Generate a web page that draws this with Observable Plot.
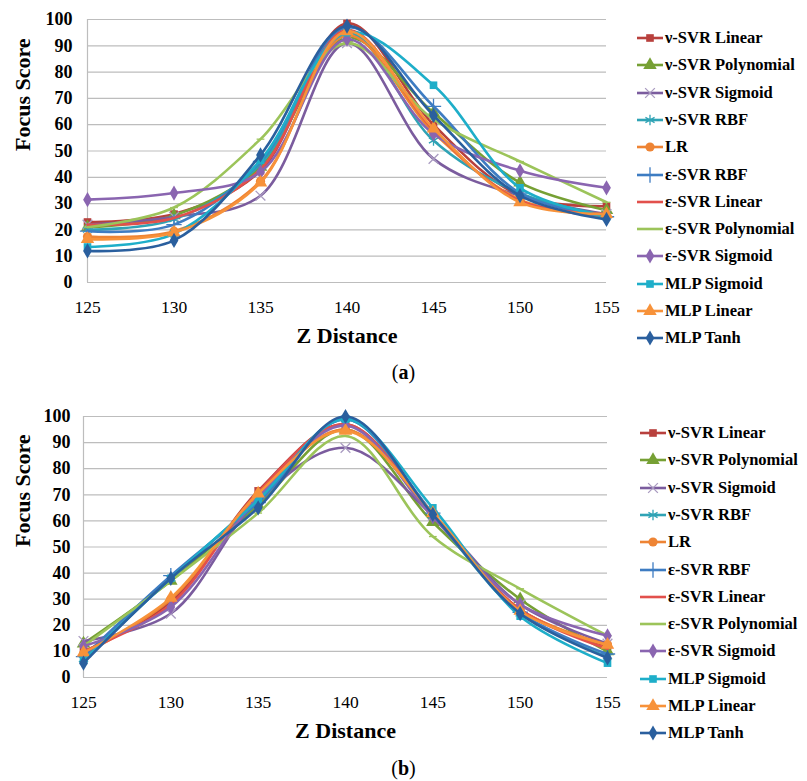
<!DOCTYPE html>
<html><head><meta charset="utf-8">
<script src="https://cdn.jsdelivr.net/npm/d3@7"></script>
<script src="https://cdn.jsdelivr.net/npm/@observablehq/plot@0.6"></script>
<style>
body{margin:0;background:#fff;}
#root{position:relative;width:807px;height:781px;font-family:"Liberation Serif","Times New Roman","DejaVu Serif",serif;color:#000;overflow:hidden;}
.panel{position:absolute;left:0;}
.row{position:absolute;display:flex;align-items:center;white-space:nowrap;font-weight:bold;font-size:16.5px;height:18px;}
.row svg{margin-right:2px;}
.cap{position:absolute;left:0;width:807px;text-align:center;font-size:20px;line-height:24px;}
svg text{font-family:"Liberation Serif","Times New Roman","DejaVu Serif",serif !important;}
</style></head><body><div id="root"></div>
<script>
const zDistance = [125, 130, 135, 140, 145, 150, 155];
const yTicks = [0, 10, 20, 30, 40, 50, 60, 70, 80, 90, 100];
const seriesNames = ["ν-SVR Linear", "ν-SVR Polynomial", "ν-SVR Sigmoid", "ν-SVR RBF", "LR", "ε-SVR RBF",
  "ε-SVR Linear", "ε-SVR Polynomial", "ε-SVR Sigmoid", "MLP Sigmoid", "MLP Linear", "MLP Tanh"];
const seriesColors = ["#b8403d", "#76a034", "#7b5c9e", "#2fa3b5", "#ee8434", "#3e7cc2",
  "#e2504c", "#9cc45a", "#8a65b0", "#1eaec9", "#f7923a", "#2a5f9e"];
const seriesSymbols = ["square", "triangle", "times", "asterisk", "circle", "plus",
  null, "dash", "diamond", "square", "triangle", "diamond"];

// Panel (a) focus scores, one row per series, columns follow zDistance
const scoresA = [
  [23, 26, 42.5, 98.5, 60, 33, 29],
  [21, 25.5, 44, 93, 64.5, 38, 27.5],
  [22, 25, 33, 91, 47, 33, 26],
  [20, 24, 45, 95, 54, 34, 25.5],
  [17.5, 19.5, 38.5, 94, 57, 31.5, 25],
  [19.5, 22, 46, 97, 67, 34, 25],
  [22, 24.5, 43, 96, 58, 31, 26],
  [21, 28.5, 54.5, 91, 62, 46, 30.5],
  [31.5, 34, 42, 92.5, 56.5, 42.5, 36],
  [13.5, 18.5, 46.5, 95, 75, 36, 25],
  [16.5, 19, 38, 95.5, 58.5, 30.5, 26],
  [12, 16, 48.5, 97.5, 63.5, 33, 24]
];
// Panel (b) focus scores
const scoresB = [
  [10, 29, 71.5, 97, 62, 26, 12],
  [13, 37, 66, 95, 59.5, 30, 10],
  [14, 24.5, 68, 88, 62, 28, 13],
  [7, 38, 68, 99, 62, 24.5, 8],
  [9, 30, 70, 95, 62.5, 26, 12.5],
  [8, 39, 67, 99, 63, 25, 9],
  [10, 28, 71, 97, 62, 26, 11],
  [12, 37, 63, 92.5, 54, 34, 16],
  [12, 27, 69, 96.5, 61.5, 28, 16],
  [6.5, 38, 68, 99, 65, 23.5, 5.5],
  [9.5, 30.5, 70.5, 94.5, 63, 25.5, 12.5],
  [5.5, 38, 65, 100, 62.5, 24.5, 7.5]
];

const dashSymbol = {draw(ctx, size) { const w = Math.sqrt(size) * 0.55; ctx.moveTo(-w, 0); ctx.lineTo(w, 0); }};
const strokeSymbols = new Set(["times", "asterisk", "plus", "dash"]);
const symbolRadius = {square: 4.3, triangle: 5, times: 4.5, asterisk: 5, circle: 4.6, plus: 5, dash: 4, diamond: 4.6};
const serif = '"Liberation Serif", "Times New Roman", "DejaVu Serif", serif';

function tidy(scores) {
  const rows = [];
  scores.forEach((vals, i) => vals.forEach((v, j) => rows.push({series: seriesNames[i], idx: i, z: zDistance[j], score: v})));
  return rows;
}

function panel(scores, opts) {
  const data = tidy(scores);
  const marks = [
    Plot.gridY(yTicks, {stroke: "#bdbdbd", strokeOpacity: 1, strokeWidth: 1.2}),
    Plot.ruleX([125], {stroke: "#bdbdbd", strokeWidth: 1.2}),
    Plot.axisY(yTicks, {tickSize: 0, tickPadding: opts.yPad, fontWeight: "bold", fontSize: 18, label: null}),
    Plot.axisX(zDistance, {tickSize: 0, tickPadding: 18, fontSize: 17.5, label: null}),
    Plot.text(["Focus Score"], {text: d => d, frameAnchor: "left", rotate: -90, dx: -opts.titleDx, fontWeight: "bold", fontSize: 22}),
    Plot.text(["Z Distance"], {text: d => d, frameAnchor: "bottom", dy: 60, fontWeight: "bold", fontSize: 22})
  ];
  seriesNames.forEach((name, i) => {
    const sub = data.filter(d => d.idx === i);
    marks.push(Plot.line(sub, {x: "z", y: "score", stroke: seriesColors[i], strokeWidth: 2.6, curve: "catmull-rom"}));
    const s = seriesSymbols[i];
    if (s) {
      const sym = s === "dash" ? dashSymbol : s;
      const isStroke = strokeSymbols.has(s);
      marks.push(Plot.dot(sub, {x: "z", y: "score", symbol: sym, r: symbolRadius[s],
        fill: isStroke ? "none" : seriesColors[i], stroke: isStroke ? (s === "times" ? "#a99bc0" : seriesColors[i]) : "none",
        strokeWidth: isStroke ? 1.3 : 0}));
    }
  });
  return Plot.plot({
    width: 620, height: 360,
    marginLeft: opts.ml, marginRight: opts.mr, marginTop: 19, marginBottom: opts.mb,
    x: {domain: [125, 155]},
    y: {domain: [0, 100]},
    style: {fontFamily: serif, color: "#000", background: "transparent", overflow: "visible"},
    marks
  });
}

const root = document.getElementById("root");
function place(el, top) { const d = document.createElement("div"); d.className = "panel"; d.style.top = top + "px"; d.appendChild(el); root.appendChild(d); }
place(panel(scoresA, {ml: 87, mr: 14, mb: 78, yPad: 15, titleDx: 65}), 0);
place(panel(scoresB, {ml: 83, mr: 13, mb: 80, yPad: 13, titleDx: 61}), 397);

function legend(top0, left) {
  const symTypes = {square: d3.symbolSquare, triangle: d3.symbolTriangle, times: d3.symbolTimes, asterisk: d3.symbolAsterisk,
    circle: d3.symbolCircle, plus: d3.symbolPlus, diamond: d3.symbolDiamond, dash: dashSymbol};
  seriesNames.forEach((name, i) => {
    const row = document.createElement("div");
    row.className = "row";
    row.style.left = left + "px";
    row.style.top = (top0 + i * 27.3 - 9) + "px";
    const svg = d3.create("svg").attr("width", 26).attr("height", 16);
    svg.append("line").attr("x1", 0).attr("x2", 26).attr("y1", 8).attr("y2", 8).attr("stroke", seriesColors[i]).attr("stroke-width", 2.6);
    const s = seriesSymbols[i];
    if (s) {
      const r = symbolRadius[s];
      const isStroke = strokeSymbols.has(s);
      svg.append("path").attr("transform", "translate(13,8)")
        .attr("d", d3.symbol(symTypes[s], Math.PI * r * r)())
        .attr("fill", isStroke ? "none" : seriesColors[i])
        .attr("stroke", isStroke ? (s === "times" ? "#a99bc0" : seriesColors[i]) : "none")
        .attr("stroke-width", 1.3);
    }
    row.appendChild(svg.node());
    const t = document.createElement("span");
    t.textContent = name;
    row.appendChild(t);
    root.appendChild(row);
  });
}
legend(38, 637);
legend(433, 640);

function caption(letter, top) {
  const c = document.createElement("div");
  c.className = "cap";
  c.style.top = top + "px";
  c.innerHTML = "(<b>" + letter + "</b>)";
  root.appendChild(c);
}
caption("a", 360);
caption("b", 756);
</script></body></html>
